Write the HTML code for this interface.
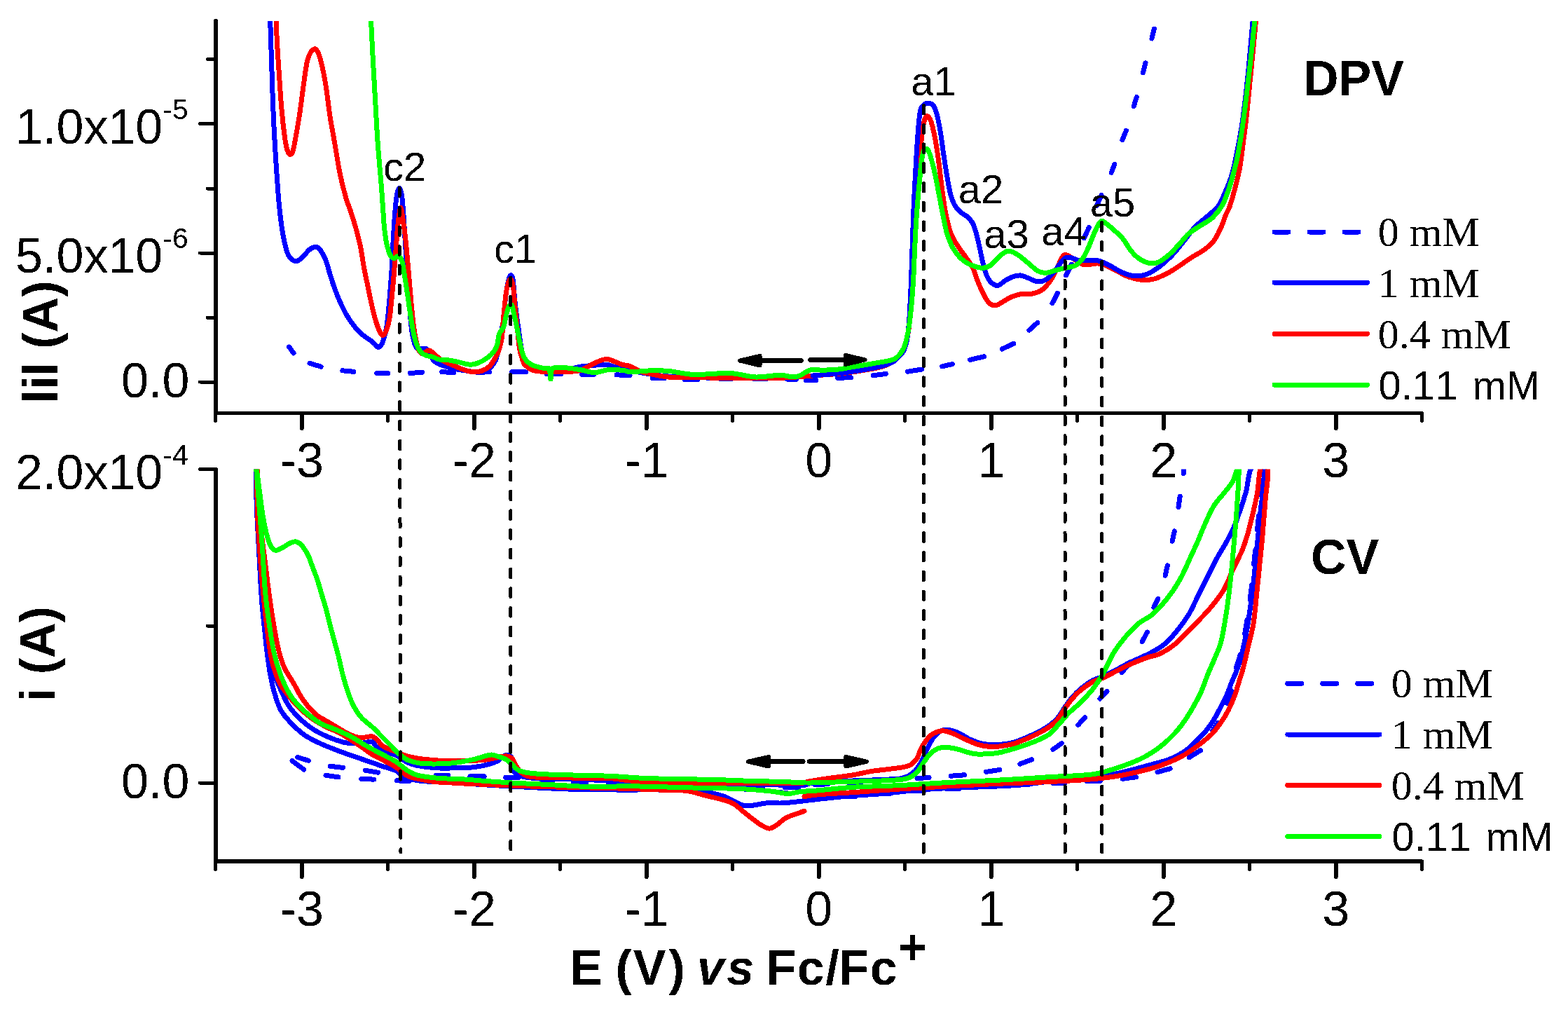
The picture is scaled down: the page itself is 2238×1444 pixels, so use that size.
<!DOCTYPE html>
<html><head><meta charset="utf-8"><title>DPV and CV</title>
<style>html,body{margin:0;padding:0;background:#fff;overflow:hidden}svg{display:block} text{font-kerning:none;filter:url(#crisp)}</style>
</head><body>
<svg width="2238" height="1444" viewBox="0 0 2238 1444" shape-rendering="crispEdges"><rect x="0" y="0" width="2238" height="1444" fill="#fff"/>
<defs><filter id="crisp" x="-0.1" y="-0.1" width="1.2" height="1.2" filterUnits="objectBoundingBox"><feComponentTransfer><feFuncA type="discrete" tableValues="0 1"/></feComponentTransfer></filter><clipPath id="ct"><rect x="308" y="30" width="1722" height="557"/></clipPath><clipPath id="cb"><rect x="308" y="669.5" width="1722" height="557"/></clipPath></defs>
<g clip-path="url(#ct)">
<path d="M412.6,495.0 L419.0,503.9 M442.0,518.2 L458.2,523.3 M488.9,528.8 L504.8,530.3 M537.8,532.4 L553.6,532.6 M585.5,532.5 L602.4,531.2 M630.8,530.7 L647.7,531.5 M681.5,531.5 L698.5,530.7 M730.7,530.6 L750.5,530.9 M780.5,533.7 L800.5,533.7 M830.5,534.2 L848.1,534.2 M880.1,534.9 L899.1,535.4 M931.2,539.5 L948.3,539.7 M977.5,541.5 L995.5,541.5 M1027.5,540.3 L1044.5,540.3 M1075.5,540.5 L1093.5,540.8 M1123.5,541.1 L1136.5,541.4 M1150.1,542.6 L1164.7,542.6 M1195.5,539.4 L1214.5,538.6 M1246.2,535.8 L1264.4,533.4 M1295.6,530.2 L1315.4,527.1 M1344.6,522.8 L1359.5,519.5 M1384.4,513.4 L1404.6,508.8 M1430.2,498.0 L1446.8,490.3 M1468.9,471.1 L1480.7,460.5 M1501.9,432.8 L1509.4,418.4 M1521.6,392.9 L1529.4,377.1 M1547.4,339.7 L1554.2,324.7 M1565.6,293.1 L1572.1,278.7 M1586.2,246.3 L1590.9,234.2 M1601.9,199.6 L1607.4,186.3 M1618.2,151.7 L1622.3,138.6 M1631.4,103.9 L1635.0,89.9 M1644.0,55.0 L1647.4,41.1" fill="none" stroke="#0000ff" stroke-width="7" stroke-linecap="round"/>
<path d="M385.7,30.0 C386.3,47.4 386.8,64.9 387.4,82.3 C388.1,103.1 388.6,123.9 389.4,144.7 C390.2,165.5 391.2,186.2 392.4,207.0 C393.6,227.8 395.0,248.5 396.5,269.3 C397.2,279.5 398.1,289.8 399.2,300.0 C400.1,308.3 401.0,316.6 402.3,324.9 C403.5,332.6 404.7,340.3 406.5,347.8 C407.8,353.4 409.3,359.2 411.7,364.4 C412.8,366.8 414.9,369.0 417.0,370.5 C418.7,371.7 421.2,373.1 423.1,372.7 C426.0,372.1 429.0,369.6 431.4,367.5 C435.2,364.1 437.8,359.2 441.8,356.1 C444.4,354.1 448.2,352.2 451.1,352.4 C453.4,352.5 455.9,355.0 457.4,357.1 C460.4,361.1 462.8,365.9 464.7,370.6 C466.9,376.0 468.1,381.7 469.8,387.3 C472.2,394.9 474.4,402.6 477.1,410.1 C479.6,417.1 482.4,424.1 485.4,430.9 C488.3,437.3 491.3,443.6 494.8,449.6 C498.2,455.4 502.0,461.0 506.2,466.2 C509.9,470.7 514.3,474.9 518.7,478.7 C521.9,481.4 525.7,483.4 529.1,485.9 C531.2,487.5 533.1,489.2 535.0,491.0 C536.5,492.4 537.8,495.1 539.4,495.5 C540.6,495.8 542.5,494.2 543.5,493.0 C544.9,491.3 546.0,489.2 546.7,487.0 C548.8,480.2 550.8,473.3 551.9,466.2 C554.0,452.5 554.9,438.5 556.1,424.7 C557.3,410.8 558.3,397.0 559.2,383.1 C560.1,369.3 560.5,355.4 561.3,341.6 C562.1,327.7 562.9,313.8 564.0,300.0 C564.6,292.6 565.2,285.2 566.5,278.0 C567.1,274.6 568.8,268.0 569.9,268.0 C571.0,268.0 572.7,274.6 573.3,278.0 C574.6,285.2 574.9,292.7 575.5,300.0 C576.3,310.3 576.9,320.7 577.5,331.0 C578.5,347.3 579.4,363.7 580.5,380.0 C581.6,396.7 582.7,413.3 584.0,430.0 C585.0,443.3 585.9,456.7 587.5,470.0 C588.2,476.1 589.3,482.2 591.0,488.0 C591.9,491.2 593.4,494.9 595.5,497.0 C596.7,498.2 599.2,497.9 601.0,498.0 C603.3,498.1 606.2,496.4 608.0,497.4 C610.5,498.8 612.2,502.3 614.0,505.0 C616.4,508.5 617.2,513.6 620.5,516.0 C626.1,520.1 633.8,522.3 640.8,524.4 C647.5,526.4 654.6,527.4 661.6,528.5 C667.8,529.5 674.0,530.5 680.2,530.6 C684.1,530.7 688.2,530.0 692.0,529.0 C694.5,528.3 697.0,527.1 699.0,525.4 C701.4,523.4 703.2,520.6 705.0,518.0 C706.3,516.1 707.7,514.1 708.3,511.9 C710.2,504.8 711.1,497.3 712.5,490.0 C713.6,483.8 714.7,477.6 715.8,471.4 C716.5,467.6 717.5,463.8 718.0,460.0 C719.0,452.4 719.4,444.7 720.2,437.0 C721.0,429.3 721.8,421.6 723.0,414.0 C723.8,409.0 724.6,403.9 726.0,399.0 C726.6,396.7 728.0,392.8 729.1,392.6 C730.0,392.4 731.6,396.0 732.0,398.0 C733.1,403.2 733.0,408.7 733.5,414.0 C734.2,421.7 734.9,429.3 735.8,437.0 C736.7,444.7 737.7,452.3 738.7,460.0 C739.2,463.8 739.9,467.6 740.4,471.4 C741.3,477.6 742.1,483.8 743.0,490.0 C743.9,496.0 744.8,502.1 746.0,508.0 C746.7,511.4 746.5,515.7 748.8,518.1 C753.0,522.6 759.2,527.1 765.4,528.5 C776.3,531.0 788.6,530.9 800.0,530.0 C809.4,529.2 818.4,525.0 827.8,523.3 C834.6,522.1 841.6,521.9 848.5,521.3 C854.1,520.8 859.7,519.7 865.2,520.2 C870.1,520.7 874.8,523.3 879.7,524.4 C893.1,527.4 906.5,530.4 920.0,532.7 C931.1,534.6 942.3,536.2 953.6,537.0 C971.3,538.3 989.2,538.6 1007.0,539.0 C1025.0,539.4 1043.0,539.6 1061.0,539.5 C1081.7,539.4 1102.3,539.2 1123.0,538.5 C1135.3,538.1 1147.7,536.8 1160.0,536.0" fill="none" stroke="#0000ff" stroke-width="7" stroke-linecap="round" stroke-linejoin="round"/>
<path d="M394.6,28.0 C394.7,35.7 394.6,43.5 395.0,51.2 C395.8,68.5 397.1,85.8 398.2,103.1 C399.4,120.4 400.4,137.7 401.9,155.0 C403.1,168.9 404.6,182.8 406.5,196.6 C407.3,202.5 408.3,208.4 410.0,214.0 C410.7,216.4 412.3,219.6 413.8,220.5 C414.6,221.0 416.5,219.2 417.0,218.0 C418.5,214.7 419.3,210.7 420.0,207.0 C422.7,193.2 425.1,179.3 427.3,165.4 C429.6,150.2 431.3,134.9 433.5,119.7 C435.1,108.6 436.2,97.4 438.7,86.5 C439.7,82.0 441.6,77.3 444.0,73.5 C445.2,71.7 447.9,69.6 449.5,69.8 C451.2,70.1 453.0,73.0 454.0,75.0 C456.0,79.2 457.3,84.0 458.4,88.6 C460.9,98.9 463.0,109.3 464.7,119.7 C467.2,134.9 468.6,150.2 470.9,165.4 C473.1,179.3 475.8,193.1 478.2,207.0 C480.6,220.8 482.5,234.8 485.4,248.5 C488.0,261.1 491.3,273.5 494.8,285.9 C496.2,290.7 498.4,295.2 500.0,300.0 C502.9,308.9 505.8,317.9 508.3,327.0 C510.6,335.2 512.8,343.5 514.5,351.9 C516.6,362.2 517.8,372.7 519.7,383.1 C521.2,391.4 523.2,399.7 524.9,408.0 C526.6,416.3 528.2,424.7 530.1,433.0 C532.0,441.3 533.8,449.7 536.3,457.9 C538.0,463.6 540.0,469.3 542.6,474.5 C543.4,476.2 545.5,479.0 546.7,478.5 C548.6,477.6 550.8,473.4 551.9,470.4 C553.9,465.1 555.2,459.4 556.1,453.7 C557.6,444.1 558.2,434.4 559.2,424.7 C560.3,413.6 561.4,402.5 562.3,391.4 C563.4,378.2 564.3,365.1 565.4,351.9 C566.3,340.6 566.9,329.2 568.2,318.0 C569.1,310.8 570.7,296.5 572.0,296.5 C573.3,296.5 574.7,310.8 575.8,318.0 C577.0,325.8 578.1,333.7 578.9,341.6 C580.5,356.8 581.7,372.1 583.1,387.3 C584.5,403.2 585.7,419.1 587.2,435.0 C588.4,447.5 589.4,460.0 591.4,472.4 C592.9,481.5 594.4,491.0 597.6,499.4 C598.6,502.0 601.8,504.9 603.9,505.2 C605.6,505.4 607.1,502.1 609.0,501.0 C610.2,500.3 611.8,499.7 613.0,500.0 C614.9,500.5 616.7,502.2 618.4,503.6 C622.0,506.6 624.9,510.5 628.8,513.0 C633.8,516.2 639.6,518.1 645.0,520.5 C650.5,522.9 655.9,525.5 661.6,527.5 C665.6,528.9 669.8,530.2 674.0,530.6 C678.1,530.9 682.6,530.9 686.5,529.6 C691.0,528.1 695.6,525.5 699.0,522.3 C702.5,518.9 704.8,514.1 707.3,509.8 C709.1,506.7 710.9,503.4 712.0,500.0 C713.8,494.5 715.3,488.8 716.2,483.0 C717.3,475.4 717.3,467.7 718.0,460.0 C718.7,452.3 719.4,444.7 720.2,437.0 C721.0,429.3 721.7,421.6 723.0,414.0 C723.7,409.9 724.6,405.8 726.0,402.0 C726.5,400.6 727.8,398.4 728.6,398.4 C729.4,398.4 730.6,400.6 731.0,402.0 C732.1,405.8 732.5,410.0 733.0,414.0 C733.9,421.6 734.3,429.3 735.0,437.0 C735.8,444.7 736.7,452.3 737.5,460.0 C738.2,466.7 738.8,473.3 739.5,480.0 C740.3,486.7 740.7,493.4 742.0,500.0 C742.9,504.8 744.5,509.4 746.0,514.0 C746.7,516.1 747.2,518.7 748.8,520.2 C752.3,523.5 756.6,527.2 761.3,528.5 C769.1,530.7 777.9,530.2 786.2,530.6 C793.1,530.9 800.1,530.9 807.0,530.6 C814.0,530.2 821.2,530.5 827.8,528.5 C835.1,526.3 841.5,521.4 848.5,518.1 C852.2,516.4 856.1,514.7 860.0,513.5 C862.3,512.8 864.9,512.0 867.2,512.3 C870.7,512.8 874.1,514.8 877.6,516.1 C881.1,517.4 884.4,519.1 888.0,520.2 C891.4,521.2 895.1,521.1 898.4,522.3 C902.7,523.9 906.6,526.7 910.9,528.5 C913.8,529.8 916.9,530.9 920.0,531.6 C931.1,534.1 942.3,537.1 953.6,538.0 C971.3,539.5 989.3,538.6 1007.2,538.9 C1025.1,539.2 1043.0,539.7 1060.9,539.7 C1081.7,539.7 1102.6,539.7 1123.4,538.9 C1135.6,538.4 1147.8,537.0 1160.0,536.0" fill="none" stroke="#ff0000" stroke-width="7" stroke-linecap="round" stroke-linejoin="round"/>
<path d="M1160.0,536.0 C1174.6,534.9 1189.3,534.4 1203.8,532.6 C1221.8,530.3 1239.9,527.7 1257.5,523.7 C1263.0,522.5 1268.1,519.7 1273.0,517.0 C1275.9,515.4 1278.6,513.3 1281.0,511.0 C1283.6,508.6 1286.3,506.0 1288.0,503.0 C1290.3,499.0 1291.8,494.5 1293.0,490.0 C1294.8,483.5 1296.1,476.7 1297.0,470.0 C1298.4,460.1 1299.2,450.0 1300.0,440.0 C1301.2,423.4 1302.0,406.7 1303.0,390.0 C1304.6,362.6 1306.1,335.2 1307.8,307.8 C1309.5,280.1 1310.9,252.4 1313.0,224.7 C1314.0,210.8 1315.3,196.9 1317.1,183.1 C1317.7,178.7 1318.5,174.1 1320.0,170.0 C1320.6,168.2 1322.4,165.0 1323.5,165.4 C1325.2,165.9 1327.6,170.0 1328.6,172.7 C1331.0,179.3 1332.4,186.5 1333.8,193.5 C1335.9,203.8 1337.5,214.3 1339.0,224.7 C1341.0,238.5 1342.2,252.4 1344.1,266.2 C1345.7,278.0 1347.1,289.8 1349.3,301.5 C1351.0,310.6 1353.0,319.7 1355.6,328.5 C1356.9,332.8 1358.9,337.0 1361.0,341.0 C1363.3,345.4 1366.1,349.6 1368.9,353.7 C1371.8,358.0 1375.0,362.0 1377.9,366.2 C1381.6,371.5 1385.7,376.6 1388.6,382.3 C1391.7,388.5 1393.1,395.5 1395.7,401.9 C1398.4,408.6 1401.3,415.2 1404.7,421.6 C1406.7,425.4 1408.7,429.6 1411.8,432.3 C1414.1,434.4 1417.9,436.2 1420.8,435.9 C1424.4,435.6 1428.0,432.4 1431.5,430.5 C1435.1,428.5 1438.4,425.9 1442.2,424.3 C1446.8,422.3 1451.6,420.6 1456.5,419.8 C1462.3,418.8 1468.7,420.2 1474.4,418.9 C1479.4,417.8 1484.6,415.7 1488.7,412.6 C1493.0,409.4 1496.3,404.6 1499.4,400.1 C1502.8,395.1 1505.6,389.5 1508.3,384.0 C1510.9,378.8 1512.5,372.9 1515.5,368.0 C1516.7,366.0 1518.9,363.5 1520.9,363.5 C1523.7,363.5 1526.9,366.4 1529.8,368.0 C1532.8,369.7 1535.7,371.6 1538.7,373.3 C1541.6,374.9 1544.5,377.5 1547.7,377.8 C1553.4,378.4 1559.6,376.1 1565.5,376.0 C1568.5,375.9 1571.7,376.3 1574.5,377.3 C1580.6,379.5 1586.5,382.9 1592.4,385.8 C1598.4,388.7 1604.0,392.5 1610.2,394.8 C1615.9,396.9 1622.0,398.6 1628.1,399.2 C1634.0,399.8 1640.2,399.6 1646.0,398.3 C1652.1,396.9 1658.1,394.0 1663.8,391.2 C1670.0,388.1 1675.9,384.3 1681.7,380.5 C1687.8,376.5 1693.5,372.0 1699.6,368.0 C1705.4,364.2 1711.9,361.3 1717.5,357.2 C1722.6,353.5 1728.0,349.6 1731.8,344.7 C1736.3,338.9 1739.3,331.8 1742.5,325.1 C1745.1,319.6 1746.7,313.6 1749.0,308.0 C1750.9,303.3 1753.7,299.0 1755.3,294.2 C1758.5,284.7 1761.1,274.9 1763.6,265.2 C1765.9,256.2 1768.2,247.2 1769.8,238.1 C1771.6,227.8 1772.7,217.4 1774.0,207.0 C1775.8,193.1 1777.7,179.3 1779.2,165.4 C1781.1,148.1 1782.7,130.8 1784.4,113.5 C1785.8,99.6 1787.2,85.8 1788.5,71.9 C1789.9,57.3 1791.3,42.6 1792.7,28.0" fill="none" stroke="#ff0000" stroke-width="7" stroke-linecap="round" stroke-linejoin="round"/>
<path d="M1160.0,536.0 C1174.7,534.7 1189.4,534.0 1204.0,532.0 C1221.7,529.6 1239.6,526.9 1257.0,523.0 C1263.3,521.6 1269.4,519.0 1275.0,516.0 C1278.1,514.3 1280.6,511.6 1283.0,509.0 C1285.6,506.2 1288.4,503.4 1290.0,500.0 C1292.2,495.4 1293.5,490.1 1294.5,485.0 C1296.0,476.8 1296.9,468.4 1297.5,460.0 C1298.9,440.0 1299.7,420.0 1300.5,400.0 C1301.7,369.3 1302.4,338.5 1303.6,307.8 C1304.4,287.0 1305.6,266.2 1306.7,245.4 C1307.7,228.1 1308.5,210.8 1309.9,193.5 C1310.8,181.7 1311.4,169.6 1313.6,158.2 C1314.2,155.0 1316.2,151.6 1318.5,149.5 C1320.1,148.0 1323.1,147.3 1325.4,147.4 C1327.5,147.5 1330.4,148.2 1331.7,149.9 C1334.2,153.2 1335.7,158.0 1336.9,162.3 C1339.2,170.5 1340.7,178.9 1342.1,187.3 C1343.8,196.9 1344.8,206.6 1346.2,216.3 C1347.9,227.4 1349.5,238.5 1351.4,249.6 C1353.0,258.6 1354.3,267.8 1356.6,276.6 C1358.1,282.3 1360.0,288.1 1362.8,293.2 C1364.7,296.7 1367.7,299.9 1370.7,302.6 C1373.9,305.4 1378.2,307.0 1381.4,309.8 C1384.0,312.1 1386.3,315.0 1388.0,318.0 C1389.8,321.1 1391.0,324.6 1392.0,328.0 C1394.1,335.3 1395.8,342.7 1397.5,350.1 C1399.4,358.4 1400.8,366.8 1402.9,375.1 C1404.4,381.1 1405.8,387.3 1408.3,393.0 C1410.0,396.9 1412.3,401.0 1415.4,403.7 C1417.7,405.7 1421.5,407.8 1424.3,407.3 C1428.1,406.6 1431.4,402.3 1435.1,400.1 C1438.5,398.1 1442.1,396.0 1445.8,394.8 C1449.2,393.7 1453.0,392.7 1456.5,393.0 C1460.1,393.3 1463.7,395.3 1467.2,396.6 C1472.0,398.3 1476.7,401.6 1481.5,401.9 C1485.6,402.2 1490.4,400.5 1494.0,398.3 C1498.2,395.7 1501.5,391.4 1504.8,387.6 C1508.1,383.7 1510.5,379.0 1513.7,375.1 C1515.8,372.5 1518.0,369.3 1520.9,368.0 C1523.4,366.9 1526.9,367.4 1529.8,368.0 C1532.9,368.6 1535.6,370.9 1538.7,371.5 C1541.6,372.1 1544.7,371.6 1547.7,371.5 C1550.7,371.5 1553.6,371.1 1556.6,371.2 C1560.8,371.4 1565.1,371.3 1569.1,372.4 C1574.1,373.8 1578.7,376.4 1583.4,378.7 C1589.5,381.7 1595.1,385.9 1601.3,388.5 C1607.0,390.9 1613.1,393.4 1619.2,393.9 C1625.0,394.3 1631.5,393.3 1637.0,391.2 C1643.4,388.8 1649.4,384.6 1654.9,380.5 C1661.3,375.7 1667.3,370.2 1672.8,364.4 C1679.2,357.7 1684.8,350.1 1690.7,342.9 C1695.9,336.5 1700.4,329.5 1706.0,323.5 C1710.8,318.4 1716.8,314.5 1722.0,309.8 C1727.7,304.7 1734.2,300.2 1738.7,294.2 C1743.2,288.1 1745.9,280.6 1749.0,273.5 C1752.5,265.3 1756.0,257.0 1758.5,248.5 C1761.5,238.3 1763.4,227.8 1765.5,217.4 C1767.9,205.6 1770.1,193.8 1772.0,182.0 C1774.0,169.6 1775.5,157.2 1777.0,144.7 C1778.7,130.9 1780.1,117.0 1781.5,103.1 C1782.9,89.3 1784.0,75.4 1785.3,61.6 C1786.3,50.4 1787.3,39.2 1788.3,28.0" fill="none" stroke="#0000ff" stroke-width="7" stroke-linecap="round" stroke-linejoin="round"/>
<path d="M529.5,28.0 C530.4,46.1 531.2,64.2 532.2,82.3 C533.3,103.1 534.5,123.9 535.7,144.7 C536.9,165.5 537.9,186.3 539.4,207.0 C540.9,227.8 543.0,248.5 544.6,269.3 C545.4,279.5 546.0,289.8 546.7,300.0 C547.4,309.0 547.8,318.0 548.8,327.0 C549.6,334.0 550.4,341.0 551.9,347.8 C553.2,353.4 554.6,359.4 557.1,364.4 C558.1,366.3 560.4,368.4 562.3,368.6 C564.2,368.8 566.8,364.8 568.5,365.4 C570.6,366.2 572.7,369.9 573.7,372.7 C575.5,377.9 575.9,383.7 576.8,389.3 C578.3,398.3 579.7,407.3 581.0,416.3 C582.5,426.0 583.7,435.7 585.2,445.4 C586.5,453.7 587.6,462.1 589.3,470.4 C590.7,477.4 592.0,484.5 594.5,491.1 C596.2,495.6 598.6,500.2 601.8,503.6 C603.8,505.8 607.2,506.8 610.1,507.8 C612.0,508.5 614.3,508.2 616.3,508.8 C619.8,509.9 623.1,512.2 626.7,513.0 C631.3,514.0 636.1,513.4 640.8,514.0 C645.9,514.7 650.9,516.0 656.0,517.0 C661.3,518.1 666.6,520.4 671.9,520.2 C676.8,520.1 682.0,518.3 686.5,516.1 C691.7,513.6 696.9,510.1 701.0,506.0 C704.4,502.7 707.3,498.4 709.0,494.0 C711.1,488.6 710.8,482.1 712.5,476.5 C713.1,474.4 714.9,472.8 716.0,471.0 C717.0,469.3 718.4,467.8 719.0,466.0 C720.6,460.7 721.2,455.0 722.6,449.6 C723.6,445.7 724.4,441.6 726.0,438.0 C726.6,436.6 728.3,434.5 729.3,434.5 C730.1,434.5 731.1,436.7 731.5,438.0 C732.3,440.3 732.5,442.9 733.0,445.4 C734.5,452.3 736.1,459.3 737.6,466.2 C739.3,474.5 740.6,482.9 742.6,491.1 C744.1,497.4 745.0,504.2 748.0,509.8 C750.2,513.9 754.0,517.7 758.0,520.0 C763.2,522.9 769.8,524.0 775.8,525.4 C778.3,526.0 782.4,524.2 783.5,526.0 C785.8,529.4 785.2,541.0 786.0,541.0 C786.8,541.0 785.6,528.8 788.5,526.0 C791.2,523.3 798.0,524.2 802.8,524.4 C811.1,524.7 819.5,526.2 827.8,527.5 C834.7,528.6 841.6,531.6 848.5,531.6 C855.4,531.6 862.3,528.0 869.3,527.5 C876.2,527.0 883.2,527.8 890.1,528.5 C893.5,528.9 896.6,530.8 900.0,530.8 C908.3,530.9 916.7,529.2 925.0,529.0 C934.5,528.8 944.1,528.6 953.6,529.4 C965.6,530.4 977.4,534.0 989.4,534.4 C1007.2,535.0 1025.2,531.9 1043.0,532.6 C1055.0,533.1 1066.7,537.5 1078.7,538.0 C1090.6,538.4 1102.6,535.3 1114.5,535.3 C1120.5,535.3 1126.5,537.8 1132.4,538.0 C1135.4,538.1 1138.5,537.3 1141.3,536.2 C1144.4,535.0 1147.0,532.5 1150.0,531.0 C1153.0,529.5 1156.0,527.6 1159.2,527.2 C1163.2,526.7 1167.5,528.1 1171.7,528.1 C1179.4,528.1 1187.2,528.0 1194.9,527.2 C1203.9,526.2 1212.8,524.3 1221.7,522.8 C1230.6,521.3 1239.6,519.9 1248.5,518.3 C1257.5,516.6 1266.8,515.7 1275.3,512.9 C1278.3,511.9 1280.8,509.3 1283.0,507.0 C1285.0,505.0 1286.5,502.4 1288.0,500.0 C1289.3,497.9 1290.5,495.7 1291.2,493.4 C1293.2,487.1 1294.7,480.5 1296.0,474.0 C1297.3,467.6 1298.1,461.1 1298.9,454.6 C1300.1,444.9 1301.0,435.2 1301.8,425.5 C1302.6,415.8 1303.3,406.1 1303.8,396.4 C1304.5,383.5 1304.9,370.5 1305.5,357.6 C1306.1,344.7 1306.7,331.7 1307.5,318.8 C1308.2,307.5 1309.1,296.3 1310.0,285.0 C1310.7,276.0 1311.6,267.0 1312.5,258.0 C1313.6,246.9 1314.5,235.7 1316.1,224.7 C1316.6,221.1 1317.5,217.2 1319.0,214.0 C1319.5,213.0 1321.0,211.9 1321.9,212.0 C1323.0,212.2 1324.3,213.8 1325.0,215.0 C1326.6,218.0 1327.7,221.4 1328.6,224.7 C1330.9,232.9 1333.0,241.2 1334.8,249.6 C1336.8,258.5 1338.3,267.6 1340.0,276.6 C1341.7,285.6 1343.4,294.6 1345.2,303.6 C1347.2,313.3 1348.9,323.1 1351.4,332.7 C1352.5,336.9 1354.3,341.0 1356.0,345.0 C1357.2,348.0 1358.3,351.0 1360.0,353.7 C1363.2,358.7 1366.5,363.8 1370.7,368.0 C1374.3,371.6 1378.6,374.8 1383.2,376.9 C1388.8,379.5 1395.1,381.9 1401.1,382.3 C1405.3,382.5 1410.1,381.0 1413.6,378.7 C1418.4,375.6 1421.6,369.9 1426.1,366.2 C1429.9,363.1 1434.2,358.7 1438.6,358.1 C1442.6,357.5 1447.4,360.3 1451.2,362.6 C1456.9,366.0 1461.9,370.9 1467.2,375.1 C1472.0,378.9 1476.3,383.7 1481.5,386.7 C1484.7,388.5 1488.7,389.5 1492.3,389.4 C1497.1,389.2 1501.8,387.0 1506.6,385.8 C1511.4,384.6 1516.1,383.5 1520.9,382.3 C1525.7,381.1 1531.1,381.1 1535.2,378.7 C1539.4,376.3 1543.1,372.1 1545.9,368.0 C1549.6,362.6 1552.1,356.2 1554.8,350.1 C1557.4,344.2 1559.4,338.1 1562.0,332.2 C1563.9,327.9 1565.8,323.6 1568.2,319.7 C1569.3,317.9 1571.0,315.2 1572.7,315.2 C1574.9,315.2 1577.6,318.0 1579.8,319.7 C1584.2,323.1 1588.4,326.7 1592.4,330.4 C1596.1,333.8 1600.0,337.3 1603.1,341.2 C1607.1,346.2 1609.8,352.2 1613.8,357.2 C1616.9,361.1 1620.4,365.1 1624.5,368.0 C1628.8,371.1 1633.8,374.0 1638.8,375.1 C1643.3,376.1 1648.8,375.8 1653.1,374.2 C1658.3,372.2 1663.0,368.1 1667.4,364.4 C1672.5,360.1 1677.1,355.0 1681.7,350.1 C1686.6,344.9 1690.8,338.9 1696.0,334.0 C1699.7,330.5 1704.2,327.9 1708.5,325.1 C1712.2,322.6 1716.2,320.5 1720.0,318.0 C1723.5,315.7 1727.5,313.9 1730.4,310.9 C1735.8,305.3 1741.2,299.1 1744.9,292.2 C1749.5,283.8 1752.3,274.4 1755.3,265.2 C1758.9,254.3 1761.9,243.1 1764.5,231.9 C1767.2,220.2 1769.1,208.4 1771.0,196.6 C1773.2,182.8 1775.0,168.9 1776.8,155.0 C1778.6,141.2 1780.2,127.3 1781.8,113.5 C1783.4,99.6 1785.0,85.8 1786.5,71.9 C1788.1,57.3 1789.5,42.6 1791.0,28.0" fill="none" stroke="#00ff00" stroke-width="7" stroke-linecap="round" stroke-linejoin="round"/>
</g>
<g clip-path="url(#cb)">
<path d="M1309.0,1110.4 L1326.1,1109.6 M1357.3,1107.2 L1376.4,1105.8 M1407.5,1101.4 L1426.7,1098.4 M1455.8,1090.1 L1472.6,1083.8 M1502.9,1069.4 L1515.5,1060.4 M1538.9,1034.3 L1548.8,1023.7 M1570.0,997.0 L1579.9,986.5 M1601.1,959.5 L1613.1,945.5 M1630.2,915.6 L1637.4,902.0 M1646.8,866.7 L1652.9,854.2 M1663.2,821.1 L1666.3,806.8 M1673.2,772.1 L1676.3,757.9 M1682.0,723.5 L1684.2,708.2 M1689.2,675.5 L1690.5,663.5 M1163.5,1119.8 L1181.5,1118.7 M1211.5,1116.8 L1229.5,1115.7 M1259.5,1113.8 L1277.5,1112.7 M1758.1,986.2 L1751.1,1003.3 M1738.1,1031.5 L1730.9,1042.4 M1713.5,1070.7 L1697.3,1080.8 M1670.2,1096.7 L1652.0,1101.8 M1621.6,1108.7 L1602.3,1111.3 M1570.2,1114.6 L1551.2,1114.6 M1520.0,1117.2 L1502.7,1117.2 M1468.0,1119.8 L1452.5,1119.8 M1418.6,1122.0 L1400.1,1122.0 M1369.0,1125.3 L1350.5,1125.3 M1319.4,1128.0 L1301.0,1128.0 M1269.8,1132.7 L1251.4,1132.7 M1220.9,1136.7 L1201.8,1136.7 M1171.5,1127.7 L1153.5,1128.8 M1123.5,1131.7 L1105.5,1129.8 M1075.5,1126.8 L1057.5,1125.7 M1027.5,1124.9 L1009.5,1124.4 M979.5,1124.0 L961.5,1123.7 M931.5,1122.9 L913.5,1122.3 M883.5,1122.0 L865.5,1122.2 M835.5,1122.4 L817.5,1121.6 M787.5,1120.4 L769.5,1119.6 M739.5,1117.9 L721.5,1117.1 M691.5,1115.4 L673.5,1114.6 M643.5,1113.4 L625.5,1112.6 M583.8,1114.9 L566.5,1113.8 M533.8,1112.1 L515.8,1111.6 M483.0,1108.9 L465.0,1106.3 M433.7,1098.0 L417.1,1085.7 M424.8,1080.4 L440.3,1085.4 M471.4,1093.3 L489.5,1095.4 M521.4,1099.2 L539.6,1102.3 M570.5,1104.2 L589.5,1105.3 M622.3,1106.5 L639.6,1106.5 M670.9,1107.9 L691.1,1107.9 M721.8,1109.3 L740.5,1109.3 M773.1,1112.1 L791.0,1112.1 M818.8,1116.3 L836.7,1116.3 M868.0,1117.6 L886.5,1117.6 M917.2,1118.1 L937.2,1118.4 M967.9,1119.1 L987.9,1119.4 M1018.6,1120.1 L1038.6,1120.4 M1069.3,1121.1 L1089.3,1121.7 M1120.0,1123.8 L1139.8,1123.8" fill="none" stroke="#0000ff" stroke-width="7" stroke-linecap="round"/>
<path d="M1802.0,666.0 C1800.3,687.6 1798.9,709.2 1797.0,730.7 C1795.6,746.4 1793.9,762.1 1792.3,777.8 C1790.3,797.4 1788.7,817.1 1786.4,836.7 C1784.0,856.4 1781.5,876.1 1778.2,895.6 C1776.0,908.8 1773.2,922.0 1770.0,935.0 C1768.0,942.8 1765.1,950.3 1762.6,958.0 C1760.9,963.3 1759.1,968.6 1757.5,974.0 C1755.6,980.3 1753.8,986.7 1752.0,993.0" fill="none" stroke="#0000ff" stroke-width="7" stroke-linecap="round" stroke-linejoin="round" stroke-dasharray="20 30" stroke-dashoffset="30.0"/>
<path d="M1150.0,1120.0 C1153.3,1119.0 1156.5,1117.3 1160.0,1117.0 C1178.9,1115.3 1198.0,1114.9 1217.0,1114.0 C1239.3,1112.9 1261.9,1113.0 1284.0,1111.0 C1288.7,1110.6 1293.4,1108.7 1297.5,1106.6 C1301.0,1104.8 1304.2,1102.1 1306.8,1099.2 C1310.0,1095.6 1312.6,1091.3 1314.9,1087.1 C1317.9,1081.5 1320.0,1075.4 1322.9,1069.7 C1326.2,1063.3 1329.0,1056.2 1333.6,1050.9 C1337.1,1046.9 1342.1,1042.7 1347.0,1041.6 C1352.4,1040.4 1359.0,1042.2 1364.5,1044.2 C1371.6,1046.7 1377.7,1052.0 1384.6,1055.0 C1391.1,1057.8 1397.8,1060.6 1404.7,1061.7 C1412.9,1063.0 1421.6,1062.5 1430.0,1062.0 C1435.8,1061.6 1441.7,1060.7 1447.3,1059.0 C1456.2,1056.3 1464.8,1052.5 1473.3,1048.6 C1481.0,1045.0 1488.8,1041.2 1495.8,1036.5 C1500.9,1033.1 1505.6,1029.0 1509.6,1024.4 C1513.7,1019.8 1516.4,1014.1 1520.0,1009.0 C1523.4,1004.3 1526.6,999.4 1530.4,995.0 C1534.1,990.7 1538.1,986.6 1542.5,983.0 C1547.9,978.5 1553.7,974.1 1559.8,970.7 C1564.1,968.3 1569.2,967.5 1573.7,965.5 C1580.7,962.3 1587.5,958.7 1594.4,955.1 C1600.3,952.0 1606.0,948.5 1612.0,945.6 C1622.3,940.6 1633.1,936.6 1643.1,931.2 C1650.4,927.3 1657.7,923.0 1663.9,917.6 C1670.9,911.5 1676.8,904.1 1682.6,896.8 C1687.9,890.2 1692.8,883.3 1697.1,876.1 C1701.8,868.1 1705.4,859.4 1709.6,851.1 C1713.7,842.8 1717.9,834.5 1722.0,826.2 C1726.9,816.5 1731.5,806.6 1736.6,797.1 C1741.2,788.6 1746.5,780.6 1751.1,772.2 C1754.8,765.4 1758.4,758.5 1761.5,751.4 C1764.7,744.0 1767.2,736.3 1769.8,728.6 C1772.9,719.7 1776.0,710.7 1778.5,701.6 C1781.7,689.8 1781.2,674.1 1787.0,666.0 C1789.7,662.2 1803.2,661.5 1804.0,666.0 C1807.2,683.1 1800.9,709.2 1799.0,730.7 C1797.6,746.4 1795.9,762.1 1794.3,777.8 C1792.3,797.4 1790.7,817.1 1788.4,836.7 C1786.0,856.4 1783.5,876.1 1780.2,895.6 C1778.0,908.8 1775.2,922.0 1772.0,935.0 C1770.0,942.8 1767.4,950.4 1764.6,958.0 C1762.7,963.2 1760.1,968.1 1758.0,973.2 C1755.6,979.2 1753.7,985.3 1751.1,991.2 C1748.6,996.9 1745.7,1002.4 1742.8,1007.9 C1739.7,1013.9 1736.7,1020.1 1733.1,1025.9 C1728.9,1032.6 1724.4,1039.2 1719.3,1045.3 C1715.1,1050.3 1710.1,1054.6 1705.4,1059.1 C1700.9,1063.4 1696.7,1068.1 1691.6,1071.6 C1685.2,1076.0 1678.1,1079.8 1670.8,1082.7 C1661.9,1086.3 1652.4,1088.4 1643.1,1091.0 C1629.3,1094.8 1615.5,1098.7 1601.6,1102.0 C1587.8,1105.2 1574.0,1108.6 1560.0,1110.4 C1539.8,1113.0 1519.3,1113.1 1499.0,1115.0 C1482.6,1116.5 1466.4,1119.5 1450.0,1120.6 C1417.1,1122.8 1384.0,1123.1 1351.0,1124.7 C1337.6,1125.3 1324.2,1126.2 1310.9,1127.3 C1293.0,1128.8 1275.1,1131.2 1257.2,1132.7 C1243.8,1133.9 1230.4,1134.3 1217.0,1135.4 C1203.6,1136.5 1190.2,1138.0 1176.8,1139.4 C1167.9,1140.3 1158.9,1141.5 1150.0,1142.5 C1139.1,1143.7 1128.2,1145.2 1117.2,1145.9 C1109.6,1146.4 1102.0,1145.3 1094.4,1145.9 C1087.7,1146.4 1081.0,1148.5 1074.3,1149.2 C1069.9,1149.6 1065.2,1150.2 1060.9,1149.2 C1056.2,1148.2 1051.9,1145.3 1047.5,1143.2 C1043.0,1141.1 1038.8,1137.9 1034.0,1136.5 C1020.9,1132.7 1007.4,1128.9 993.8,1127.5 C976.1,1125.7 957.9,1127.1 940.0,1127.0 C920.0,1126.9 900.0,1127.1 880.0,1127.0 C860.3,1126.9 840.5,1126.8 820.8,1126.3 C804.7,1125.9 788.5,1125.1 772.4,1124.3 C749.3,1123.2 726.2,1121.8 703.1,1120.5 C681.2,1119.2 659.3,1117.8 637.4,1116.5 C625.5,1115.8 613.5,1115.7 601.6,1114.4 C594.4,1113.6 586.8,1112.7 580.2,1110.1 C574.9,1108.0 571.1,1102.6 565.9,1100.1 C559.2,1096.9 551.5,1095.4 544.4,1092.9 C534.8,1089.6 525.3,1086.2 515.8,1082.9 C506.3,1079.6 496.7,1076.4 487.2,1072.9 C477.6,1069.3 467.9,1065.8 458.6,1061.5 C450.3,1057.7 441.7,1053.9 434.3,1048.6 C426.4,1043.0 419.4,1035.9 412.7,1028.8 C408.0,1023.8 403.4,1018.3 400.2,1012.2 C396.5,1005.1 394.2,997.1 391.9,989.3 C389.3,980.4 387.4,971.4 385.7,962.3 C383.7,951.6 382.4,940.8 381.0,930.0 C380.1,923.1 379.5,916.2 378.8,909.3 C377.0,892.0 374.9,874.7 373.6,857.4 C371.8,833.2 370.8,808.9 369.5,784.7 C368.4,763.9 367.0,743.1 366.3,722.3 C365.7,703.5 365.2,666.4 365.5,666.0 C365.8,665.6 367.1,702.0 368.0,720.0 C369.0,740.0 369.8,760.0 371.0,780.0 C372.2,800.0 373.5,820.0 375.0,840.0 C376.5,860.0 378.1,880.0 380.0,900.0 C381.1,911.7 382.0,923.4 384.0,935.0 C385.3,942.8 387.4,950.7 389.9,958.2 C392.8,966.7 396.5,974.9 400.2,983.1 C404.1,991.5 407.6,1000.3 412.7,1008.0 C417.3,1014.9 423.3,1021.0 429.3,1026.7 C435.0,1032.1 441.4,1037.1 448.0,1041.3 C454.5,1045.4 461.7,1048.7 468.8,1051.7 C475.5,1054.6 482.5,1057.1 489.6,1059.0 C493.9,1060.1 498.5,1060.5 503.0,1060.7 C508.0,1060.9 513.0,1060.4 518.0,1060.0 C522.5,1059.7 527.7,1057.5 531.6,1058.6 C534.2,1059.4 534.9,1064.0 537.3,1065.7 C541.5,1068.7 546.7,1070.8 551.6,1072.9 C556.2,1074.9 561.4,1075.8 565.9,1078.0 C570.9,1080.5 575.2,1084.7 580.2,1087.2 C584.7,1089.4 589.6,1091.2 594.5,1092.2 C603.9,1094.1 613.5,1095.2 623.1,1095.8 C632.6,1096.4 642.2,1096.0 651.7,1095.8 C659.6,1095.6 667.6,1095.7 675.4,1094.8 C682.9,1094.0 690.3,1092.5 697.6,1090.6 C701.9,1089.5 706.1,1088.0 710.0,1086.0 C712.3,1084.8 713.9,1082.5 716.0,1081.0 C717.9,1079.7 719.9,1078.1 722.0,1077.5 C723.5,1077.1 725.5,1077.5 727.0,1078.0 C727.9,1078.3 729.1,1079.0 729.4,1080.0 C730.9,1085.6 730.2,1092.2 732.2,1097.6 C733.4,1100.9 736.0,1104.4 739.1,1105.9 C744.8,1108.6 751.9,1109.5 758.5,1110.0 C776.9,1111.4 795.4,1110.7 813.9,1111.4 C841.6,1112.5 869.3,1114.3 897.0,1115.6 C911.3,1116.3 925.7,1117.2 940.0,1117.5 C960.0,1118.0 980.0,1117.7 1000.0,1118.0 C1031.0,1118.4 1062.0,1118.9 1093.0,1119.5 C1105.3,1119.7 1117.7,1120.4 1130.0,1120.5 C1136.7,1120.6 1143.3,1120.2 1150.0,1120.0" fill="none" stroke="#0000ff" stroke-width="7" stroke-linecap="round" stroke-linejoin="round"/>
<path d="M1148.0,1157.3 C1143.5,1158.9 1139.0,1160.3 1134.6,1162.0 C1130.1,1163.7 1125.3,1164.9 1121.2,1167.3 C1116.8,1169.8 1113.4,1173.9 1109.1,1176.7 C1105.8,1178.9 1102.1,1181.9 1098.4,1182.1 C1094.9,1182.3 1091.0,1179.9 1087.7,1178.1 C1083.0,1175.5 1078.7,1172.0 1074.3,1168.7 C1069.7,1165.3 1065.4,1161.6 1060.9,1158.0 C1056.4,1154.4 1052.4,1150.1 1047.5,1147.2 C1043.4,1144.7 1038.6,1143.3 1034.0,1141.9 C1025.2,1139.3 1016.1,1137.4 1007.2,1135.2 C998.3,1133.0 989.5,1129.6 980.4,1128.5 C967.2,1126.9 953.6,1127.5 940.2,1127.0 C926.8,1126.5 913.4,1125.9 900.0,1125.5 C880.5,1124.9 861.1,1124.5 841.6,1124.0 C821.1,1123.5 800.5,1123.3 780.0,1122.7 C763.6,1122.3 747.2,1121.7 730.8,1121.0 C707.7,1120.1 684.7,1119.1 661.6,1118.0 C653.5,1117.6 645.5,1117.0 637.4,1116.5 C631.6,1116.2 625.8,1116.2 620.0,1115.5 C613.8,1114.8 607.7,1113.5 601.6,1112.2 C595.4,1110.9 588.9,1110.1 583.1,1107.8 C579.2,1106.2 576.1,1103.0 572.7,1100.5 C569.9,1098.5 567.3,1096.1 564.4,1094.3 C560.3,1091.7 555.9,1089.5 551.6,1087.2 C544.5,1083.3 537.0,1080.0 530.1,1075.8 C525.1,1072.8 520.6,1069.0 515.8,1065.7 C512.6,1063.4 509.3,1061.1 506.0,1059.0 C499.1,1054.6 492.2,1049.9 485.0,1046.0 C478.6,1042.6 471.5,1040.4 465.0,1037.0 C458.1,1033.4 451.3,1029.5 445.0,1025.0 C438.7,1020.5 432.6,1015.4 427.0,1010.0 C421.1,1004.2 415.6,997.9 410.6,991.4 C406.0,985.5 401.3,979.4 398.2,972.7 C393.7,962.8 390.2,952.2 387.8,941.6 C384.7,928.0 383.4,913.9 381.6,900.0 C379.5,883.4 377.6,866.7 376.0,850.0 C374.1,830.0 372.4,810.0 371.0,790.0 C369.6,770.0 368.1,750.0 367.5,730.0 C366.8,708.7 366.5,667.8 367.0,666.0 C367.4,664.5 368.8,702.0 370.0,720.0 C371.0,734.6 372.1,749.3 373.6,763.9 C375.0,777.8 377.1,791.6 378.8,805.4 C380.5,819.3 382.1,833.2 384.0,847.0 C385.9,860.9 387.8,874.7 390.2,888.5 C392.6,902.6 395.0,916.8 398.4,930.6 C400.4,938.6 403.0,946.6 406.5,954.0 C409.9,961.3 415.0,967.8 419.0,974.8 C422.6,981.0 425.5,987.5 429.3,993.5 C432.4,998.5 435.9,1003.5 439.7,1008.0 C443.5,1012.5 447.6,1016.9 452.2,1020.5 C457.3,1024.4 463.3,1027.2 468.8,1030.5 C473.5,1033.3 478.2,1036.2 483.0,1039.0 C487.9,1041.9 492.7,1045.1 497.9,1047.5 C502.5,1049.6 507.5,1051.6 512.4,1052.5 C515.8,1053.1 519.3,1052.1 522.8,1051.8 C525.4,1051.6 528.1,1050.4 530.5,1050.8 C532.9,1051.2 535.4,1052.7 537.3,1054.3 C540.0,1056.7 541.6,1060.6 544.4,1062.9 C547.3,1065.3 550.9,1067.0 554.4,1068.6 C558.1,1070.3 562.1,1071.4 565.9,1072.9 C570.7,1074.8 575.3,1077.2 580.2,1078.6 C587.2,1080.6 594.4,1082.0 601.6,1082.9 C613.5,1084.4 625.4,1085.3 637.4,1085.8 C646.9,1086.2 656.5,1085.7 666.0,1085.5 C674.0,1085.3 682.0,1085.2 690.0,1084.5 C695.0,1084.0 700.0,1082.9 705.0,1082.0 C710.8,1081.0 716.8,1078.8 722.5,1078.9 C725.4,1078.9 728.7,1080.4 730.8,1082.3 C733.3,1084.7 734.2,1088.9 736.3,1092.0 C738.9,1095.8 741.1,1100.4 744.7,1103.1 C748.5,1106.0 753.6,1108.1 758.5,1108.6 C776.7,1110.4 795.4,1109.7 813.9,1110.0 C832.4,1110.3 850.9,1109.6 869.3,1110.5 C879.6,1111.0 889.7,1113.1 900.0,1114.0 C913.4,1115.1 926.8,1116.1 940.2,1116.5 C967.0,1117.2 993.8,1117.2 1020.6,1117.3 C1047.4,1117.4 1074.3,1117.3 1101.1,1117.3 C1115.4,1117.3 1129.8,1118.1 1144.0,1117.5 C1147.0,1117.4 1149.8,1115.9 1152.7,1115.3 C1160.7,1113.8 1168.7,1112.5 1176.8,1111.3 C1190.2,1109.3 1203.7,1108.1 1217.0,1105.9 C1226.0,1104.5 1234.8,1102.0 1243.8,1100.5 C1252.7,1099.1 1261.7,1098.5 1270.6,1097.2 C1279.6,1095.9 1289.3,1095.6 1297.5,1092.5 C1301.8,1090.9 1305.4,1086.8 1308.2,1083.1 C1310.8,1079.7 1311.5,1074.9 1313.5,1071.0 C1315.5,1066.9 1317.6,1062.7 1320.2,1059.0 C1322.9,1055.1 1325.8,1050.8 1329.6,1048.3 C1333.8,1045.5 1339.4,1043.4 1344.4,1042.9 C1348.8,1042.5 1353.5,1044.1 1357.8,1045.6 C1364.7,1048.1 1371.1,1052.1 1377.9,1055.0 C1384.5,1057.9 1391.1,1061.2 1398.0,1063.0 C1404.5,1064.7 1411.4,1065.4 1418.1,1065.7 C1422.1,1065.9 1426.1,1065.0 1430.0,1064.4 C1435.8,1063.5 1441.7,1062.8 1447.3,1061.0 C1456.2,1058.2 1464.8,1054.5 1473.3,1050.6 C1481.0,1047.0 1488.8,1043.2 1495.8,1038.5 C1500.9,1035.1 1505.6,1031.0 1509.6,1026.4 C1513.7,1021.7 1516.4,1015.9 1520.0,1010.8 C1523.3,1006.1 1526.6,1001.3 1530.4,996.9 C1534.1,992.6 1538.1,988.4 1542.5,984.8 C1547.9,980.3 1553.7,976.1 1559.8,972.7 C1564.1,970.3 1569.2,969.5 1573.7,967.5 C1580.7,964.3 1587.5,960.5 1594.4,957.1 C1600.2,954.2 1605.9,951.1 1611.8,948.5 C1620.3,944.8 1629.0,941.2 1637.7,938.1 C1643.4,936.1 1649.6,935.6 1655.0,933.0 C1662.5,929.4 1669.9,925.0 1676.3,919.7 C1685.3,912.3 1693.1,903.2 1701.3,894.8 C1709.7,886.3 1718.5,878.1 1726.2,869.0 C1733.7,860.2 1741.1,851.0 1747.0,841.0 C1752.7,831.3 1756.2,820.3 1761.0,810.0 C1764.9,801.6 1769.5,793.5 1773.0,785.0 C1775.9,778.2 1778.1,771.0 1780.2,763.9 C1782.7,755.5 1784.8,747.0 1786.8,738.5 C1789.5,727.0 1792.4,715.6 1794.5,704.0 C1796.8,691.4 1796.0,676.2 1800.0,666.0 C1801.0,663.5 1809.1,663.4 1809.5,666.0 C1811.2,678.7 1807.4,696.7 1806.2,712.0 C1804.9,729.3 1803.5,746.6 1802.0,763.9 C1800.8,777.7 1799.3,791.6 1797.9,805.4 C1796.5,819.3 1795.2,833.1 1793.7,847.0 C1792.2,861.3 1791.3,875.8 1789.0,890.0 C1787.1,901.8 1783.7,913.3 1781.0,925.0 C1778.7,935.0 1776.6,945.1 1774.0,955.0 C1772.6,960.2 1770.7,965.3 1769.1,970.5 C1766.8,977.9 1764.9,985.4 1762.2,992.6 C1759.8,999.2 1757.0,1005.7 1753.9,1012.0 C1751.0,1017.7 1747.8,1023.3 1744.2,1028.6 C1740.0,1034.8 1735.6,1041.2 1730.4,1046.6 C1725.0,1052.3 1718.6,1057.1 1712.4,1061.9 C1705.7,1067.0 1698.8,1072.1 1691.6,1076.4 C1685.0,1080.4 1677.9,1083.8 1670.8,1086.8 C1661.8,1090.5 1652.5,1093.9 1643.1,1096.5 C1629.4,1100.3 1615.6,1103.6 1601.6,1106.2 C1587.9,1108.7 1573.9,1110.4 1560.0,1111.7 C1539.8,1113.5 1519.5,1114.5 1499.2,1115.5 C1476.1,1116.6 1453.1,1117.1 1430.0,1118.1 C1403.7,1119.3 1377.3,1120.6 1351.0,1122.0 C1328.7,1123.2 1306.3,1124.6 1284.0,1126.0 C1261.7,1127.5 1239.3,1129.2 1217.0,1130.7 C1200.7,1131.8 1184.4,1132.4 1168.1,1133.8 C1161.4,1134.4 1154.7,1135.6 1148.0,1136.5" fill="none" stroke="#ff0000" stroke-width="7" stroke-linecap="round" stroke-linejoin="round"/>
<path d="M1153.4,1117.1 C1174.6,1116.5 1195.8,1116.0 1217.0,1115.3 C1239.3,1114.5 1261.8,1114.4 1284.0,1112.6 C1289.5,1112.2 1295.3,1111.0 1300.1,1108.6 C1304.3,1106.5 1307.8,1102.8 1310.9,1099.2 C1314.1,1095.6 1316.1,1091.1 1318.9,1087.1 C1321.5,1083.5 1323.8,1079.5 1326.9,1076.4 C1330.0,1073.3 1333.7,1070.2 1337.7,1068.4 C1340.9,1066.9 1344.8,1066.4 1348.4,1066.4 C1353.7,1066.4 1359.2,1067.3 1364.5,1068.4 C1373.5,1070.4 1382.2,1074.6 1391.3,1075.7 C1400.1,1076.8 1409.2,1075.7 1418.1,1075.1 C1422.1,1074.8 1426.1,1074.1 1430.0,1073.1 C1441.6,1070.0 1453.3,1066.8 1464.6,1062.7 C1475.3,1058.8 1486.3,1054.9 1495.8,1048.9 C1501.9,1045.1 1506.4,1038.6 1511.4,1033.3 C1516.2,1028.2 1520.3,1022.6 1525.2,1017.7 C1530.7,1012.2 1537.0,1007.6 1542.5,1002.1 C1548.5,996.1 1554.5,989.8 1559.8,983.1 C1565.0,976.5 1569.7,969.3 1574.0,962.0 C1577.4,956.2 1579.9,950.0 1583.0,944.0 C1585.6,939.0 1587.9,933.7 1591.0,929.0 C1595.9,921.7 1601.2,914.6 1607.0,908.0 C1613.0,901.1 1619.5,894.3 1626.5,888.5 C1631.5,884.4 1638.1,882.2 1643.1,878.1 C1649.1,873.2 1654.5,867.4 1659.7,861.5 C1664.9,855.6 1669.8,849.3 1674.3,842.8 C1678.8,836.1 1683.0,829.1 1686.7,822.0 C1691.3,813.2 1695.1,804.0 1699.2,795.0 C1702.7,787.4 1706.3,779.9 1709.6,772.2 C1713.2,764.0 1716.3,755.5 1720.0,747.3 C1724.1,738.4 1727.9,729.3 1733.0,721.0 C1736.9,714.7 1742.4,709.5 1747.0,703.6 C1751.2,698.1 1756.1,693.0 1759.4,687.0 C1763.0,680.5 1767.3,662.3 1767.8,666.0 C1769.2,676.6 1766.3,708.7 1765.0,730.0 C1764.0,746.0 1762.4,762.0 1761.0,778.0 C1759.6,793.6 1758.3,809.3 1756.6,824.9 C1754.9,840.7 1753.1,856.4 1750.7,872.1 C1748.4,887.1 1746.2,902.3 1742.5,917.0 C1740.5,924.9 1736.6,932.4 1733.5,940.0 C1730.5,947.4 1727.0,954.6 1724.0,962.0 C1720.5,970.6 1717.8,979.5 1714.0,988.0 C1710.7,995.3 1706.7,1002.3 1702.7,1009.3 C1699.2,1015.4 1695.6,1021.5 1691.6,1027.3 C1687.3,1033.5 1682.8,1039.8 1677.7,1045.3 C1671.3,1052.2 1664.4,1058.8 1657.0,1064.7 C1650.5,1069.9 1643.4,1074.4 1636.2,1078.5 C1629.6,1082.3 1622.5,1085.4 1615.4,1088.2 C1606.3,1091.8 1597.1,1095.1 1587.7,1097.9 C1578.6,1100.6 1569.4,1103.7 1560.0,1104.8 C1539.9,1107.2 1519.5,1107.3 1499.2,1108.6 C1476.1,1110.0 1453.1,1111.7 1430.0,1112.9 C1403.7,1114.3 1377.3,1115.2 1351.0,1116.6 C1328.7,1117.8 1306.3,1119.5 1284.0,1120.6 C1261.7,1121.7 1239.3,1121.9 1217.0,1123.3 C1200.7,1124.3 1184.4,1126.4 1168.1,1127.8 C1159.2,1128.6 1150.2,1128.8 1141.3,1129.8 C1135.9,1130.4 1130.6,1132.6 1125.2,1132.5 C1117.2,1132.4 1109.2,1129.9 1101.1,1129.1 C1087.7,1127.7 1074.3,1126.4 1060.9,1125.8 C1034.1,1124.6 1007.2,1124.5 980.4,1123.8 C953.6,1123.1 926.8,1122.1 900.0,1121.8 C880.5,1121.6 861.1,1122.9 841.6,1122.5 C823.1,1122.2 804.7,1120.6 786.2,1119.7 C767.7,1118.8 749.3,1118.0 730.8,1117.0 C717.0,1116.2 703.1,1115.2 689.3,1114.2 C681.5,1113.6 673.8,1112.7 666.0,1112.2 C651.7,1111.3 637.3,1111.4 623.1,1110.1 C613.5,1109.2 603.7,1108.3 594.5,1105.8 C589.4,1104.4 584.7,1101.5 580.2,1098.6 C575.1,1095.3 571.0,1090.5 565.9,1087.2 C559.1,1082.9 551.6,1079.6 544.4,1075.8 C537.3,1072.0 530.0,1068.3 523.0,1064.3 C515.7,1060.2 508.9,1055.3 501.5,1051.4 C494.6,1047.7 487.3,1044.5 480.1,1041.4 C473.0,1038.3 465.4,1036.4 458.6,1032.9 C453.3,1030.2 448.6,1026.3 443.9,1022.6 C438.1,1018.0 432.3,1013.4 427.3,1008.0 C421.9,1002.3 416.7,996.1 412.7,989.3 C407.7,980.8 403.7,971.6 400.2,962.3 C396.4,952.1 393.3,941.6 391.0,931.0 C387.9,917.0 386.1,902.7 384.0,888.5 C382.0,874.7 380.0,860.9 378.8,847.0 C376.9,826.3 376.1,805.5 374.7,784.7 C373.7,770.8 372.7,757.0 371.6,743.1 C370.2,725.4 368.8,707.7 367.4,690.0 C366.8,682.0 365.3,664.4 365.7,666.0 C366.3,668.3 368.9,689.7 370.5,701.6 C372.2,714.1 373.5,726.6 375.7,739.0 C377.3,748.4 379.2,757.9 381.9,767.0 C383.4,772.2 385.3,777.8 388.2,782.0 C389.5,783.8 392.3,785.4 394.4,785.2 C397.8,784.9 401.4,782.3 404.8,780.5 C408.4,778.6 411.5,775.7 415.2,774.3 C417.7,773.3 421.0,772.4 423.5,773.2 C426.6,774.2 429.6,776.9 431.8,779.5 C435.1,783.5 437.8,788.3 440.1,793.0 C442.7,798.3 444.2,804.1 446.3,809.6 C448.4,815.1 450.7,820.6 452.6,826.2 C454.9,833.1 456.7,840.1 458.8,847.0 C460.9,853.9 463.1,860.8 465.0,867.8 C467.3,876.1 469.1,884.4 471.3,892.7 C473.3,900.3 475.4,907.9 477.5,915.5 C479.3,922.3 481.3,929.1 483.0,936.0 C485.1,944.6 486.7,953.4 489.0,962.0 C491.7,971.9 494.5,981.8 497.9,991.4 C500.2,997.8 502.9,1004.2 506.2,1010.1 C509.1,1015.3 512.6,1020.3 516.6,1024.7 C520.9,1029.3 526.4,1032.8 531.1,1037.1 C535.4,1041.1 539.4,1045.4 543.6,1049.6 C548.4,1054.4 553.3,1059.3 558.1,1064.1 C562.3,1068.3 566.1,1072.8 570.6,1076.6 C574.4,1079.8 578.6,1083.0 583.1,1084.9 C588.3,1087.1 594.1,1088.4 599.7,1089.1 C607.4,1090.1 615.3,1090.1 623.1,1090.0 C631.3,1089.9 639.6,1089.6 647.7,1088.6 C657.0,1087.5 666.2,1085.7 675.4,1083.7 C681.0,1082.5 686.4,1080.4 692.0,1079.0 C695.2,1078.2 698.5,1076.9 701.7,1077.0 C705.0,1077.1 708.2,1078.5 711.4,1079.5 C715.2,1080.7 719.1,1081.8 722.5,1083.7 C725.6,1085.5 728.1,1088.2 730.8,1090.6 C733.2,1092.8 735.0,1095.8 737.7,1097.6 C740.6,1099.5 744.0,1101.0 747.4,1101.7 C755.6,1103.3 764.0,1104.0 772.4,1104.5 C786.2,1105.4 800.1,1105.5 813.9,1105.9 C832.4,1106.4 850.8,1106.5 869.3,1107.3 C886.2,1108.0 903.1,1109.6 920.0,1110.5 C926.7,1110.9 933.5,1110.9 940.2,1111.0 C967.0,1111.5 993.8,1111.8 1020.6,1112.5 C1034.0,1112.8 1047.5,1113.6 1060.9,1114.0 C1074.3,1114.4 1087.7,1114.7 1101.1,1115.1 C1114.5,1115.5 1127.9,1116.0 1141.3,1116.4 C1143.5,1116.5 1145.8,1116.4 1148.0,1116.4" fill="none" stroke="#00ff00" stroke-width="7" stroke-linecap="round" stroke-linejoin="round"/>
</g>
<line x1="570" y1="268.5" x2="572" y2="1216" stroke="#000" stroke-width="5" stroke-dasharray="11.5 16.24" stroke-linecap="round"/>
<line x1="728.7" y1="396" x2="729" y2="1212.5" stroke="#000" stroke-width="5" stroke-dasharray="11.5 16.24" stroke-linecap="round"/>
<line x1="1318.5" y1="150.5" x2="1318.3" y2="1216.5" stroke="#000" stroke-width="5" stroke-dasharray="11.5 16.24" stroke-linecap="round"/>
<line x1="1520" y1="372.2" x2="1520" y2="1216" stroke="#000" stroke-width="5" stroke-dasharray="11.5 16.24" stroke-linecap="round"/>
<line x1="1572.7" y1="317.7" x2="1572.8" y2="1216" stroke="#000" stroke-width="5" stroke-dasharray="11.5 16.24" stroke-linecap="round"/>
<line x1="1143.4" y1="514.4" x2="1087.5" y2="514.4" stroke="#000" stroke-width="6.7" stroke-linecap="round"/><polygon points="1056.1,514.6 1084.5,507.9 1084.5,521.4" fill="#000" stroke="#000" stroke-width="6" stroke-linejoin="round"/>
<line x1="1156.6" y1="513.5" x2="1203.7" y2="513.5" stroke="#000" stroke-width="6.7" stroke-linecap="round"/><polygon points="1234.6,513.4 1206.7,506.9 1206.7,519.9" fill="#000" stroke="#000" stroke-width="6" stroke-linejoin="round"/>
<line x1="1146.2" y1="1086.5" x2="1100.1" y2="1086.5" stroke="#000" stroke-width="6.7" stroke-linecap="round"/><polygon points="1067.9,1086.7 1097.1,1080.0 1097.1,1093.5" fill="#000" stroke="#000" stroke-width="6" stroke-linejoin="round"/>
<line x1="1155.3" y1="1086.5" x2="1204.4" y2="1086.5" stroke="#000" stroke-width="6.7" stroke-linecap="round"/><polygon points="1236.9,1086.7 1207.4,1080.0 1207.4,1093.5" fill="#000" stroke="#000" stroke-width="6" stroke-linejoin="round"/>
<line x1="308" y1="30" x2="308" y2="589.5" stroke="#000" stroke-width="6" stroke-linecap="round"/>
<line x1="305" y1="589.5" x2="2030" y2="589.5" stroke="#000" stroke-width="5"/>
<line x1="307.8" y1="589.5" x2="307.8" y2="600.5" stroke="#000" stroke-width="5" stroke-linecap="round"/>
<line x1="430.8" y1="589.5" x2="430.8" y2="611.0" stroke="#000" stroke-width="6" stroke-linecap="round"/>
<line x1="553.8" y1="589.5" x2="553.8" y2="600.5" stroke="#000" stroke-width="5" stroke-linecap="round"/>
<line x1="676.8" y1="589.5" x2="676.8" y2="611.0" stroke="#000" stroke-width="6" stroke-linecap="round"/>
<line x1="799.8" y1="589.5" x2="799.8" y2="600.5" stroke="#000" stroke-width="5" stroke-linecap="round"/>
<line x1="922.8" y1="589.5" x2="922.8" y2="611.0" stroke="#000" stroke-width="6" stroke-linecap="round"/>
<line x1="1045.8" y1="589.5" x2="1045.8" y2="600.5" stroke="#000" stroke-width="5" stroke-linecap="round"/>
<line x1="1168.8" y1="589.5" x2="1168.8" y2="611.0" stroke="#000" stroke-width="6" stroke-linecap="round"/>
<line x1="1291.8" y1="589.5" x2="1291.8" y2="600.5" stroke="#000" stroke-width="5" stroke-linecap="round"/>
<line x1="1414.8" y1="589.5" x2="1414.8" y2="611.0" stroke="#000" stroke-width="6" stroke-linecap="round"/>
<line x1="1537.8" y1="589.5" x2="1537.8" y2="600.5" stroke="#000" stroke-width="5" stroke-linecap="round"/>
<line x1="1660.8" y1="589.5" x2="1660.8" y2="611.0" stroke="#000" stroke-width="6" stroke-linecap="round"/>
<line x1="1783.8" y1="589.5" x2="1783.8" y2="600.5" stroke="#000" stroke-width="5" stroke-linecap="round"/>
<line x1="1906.8" y1="589.5" x2="1906.8" y2="611.0" stroke="#000" stroke-width="6" stroke-linecap="round"/>
<line x1="2029.8" y1="589.5" x2="2029.8" y2="600.5" stroke="#000" stroke-width="5" stroke-linecap="round"/>
<line x1="285.5" y1="176.5" x2="308" y2="176.5" stroke="#000" stroke-width="5" stroke-linecap="round"/>
<line x1="285.5" y1="361" x2="308" y2="361" stroke="#000" stroke-width="5" stroke-linecap="round"/>
<line x1="285.5" y1="545" x2="308" y2="545" stroke="#000" stroke-width="5" stroke-linecap="round"/>
<line x1="296.4" y1="84.5" x2="308" y2="84.5" stroke="#000" stroke-width="5" stroke-linecap="round"/>
<line x1="296.4" y1="269" x2="308" y2="269" stroke="#000" stroke-width="5" stroke-linecap="round"/>
<line x1="296.4" y1="453.3" x2="308" y2="453.3" stroke="#000" stroke-width="5" stroke-linecap="round"/>
<line x1="308" y1="670" x2="308" y2="1229" stroke="#000" stroke-width="6" stroke-linecap="round"/>
<line x1="305" y1="1229" x2="2030" y2="1229" stroke="#000" stroke-width="6"/>
<line x1="307.8" y1="1229" x2="307.8" y2="1240.5" stroke="#000" stroke-width="5" stroke-linecap="round"/>
<line x1="430.8" y1="1229" x2="430.8" y2="1251.0" stroke="#000" stroke-width="6" stroke-linecap="round"/>
<line x1="553.8" y1="1229" x2="553.8" y2="1240.5" stroke="#000" stroke-width="5" stroke-linecap="round"/>
<line x1="676.8" y1="1229" x2="676.8" y2="1251.0" stroke="#000" stroke-width="6" stroke-linecap="round"/>
<line x1="799.8" y1="1229" x2="799.8" y2="1240.5" stroke="#000" stroke-width="5" stroke-linecap="round"/>
<line x1="922.8" y1="1229" x2="922.8" y2="1251.0" stroke="#000" stroke-width="6" stroke-linecap="round"/>
<line x1="1045.8" y1="1229" x2="1045.8" y2="1240.5" stroke="#000" stroke-width="5" stroke-linecap="round"/>
<line x1="1168.8" y1="1229" x2="1168.8" y2="1251.0" stroke="#000" stroke-width="6" stroke-linecap="round"/>
<line x1="1291.8" y1="1229" x2="1291.8" y2="1240.5" stroke="#000" stroke-width="5" stroke-linecap="round"/>
<line x1="1414.8" y1="1229" x2="1414.8" y2="1251.0" stroke="#000" stroke-width="6" stroke-linecap="round"/>
<line x1="1537.8" y1="1229" x2="1537.8" y2="1240.5" stroke="#000" stroke-width="5" stroke-linecap="round"/>
<line x1="1660.8" y1="1229" x2="1660.8" y2="1251.0" stroke="#000" stroke-width="6" stroke-linecap="round"/>
<line x1="1783.8" y1="1229" x2="1783.8" y2="1240.5" stroke="#000" stroke-width="5" stroke-linecap="round"/>
<line x1="1906.8" y1="1229" x2="1906.8" y2="1251.0" stroke="#000" stroke-width="6" stroke-linecap="round"/>
<line x1="2029.8" y1="1229" x2="2029.8" y2="1240.5" stroke="#000" stroke-width="5" stroke-linecap="round"/>
<line x1="285.5" y1="669.7" x2="308" y2="669.7" stroke="#000" stroke-width="5" stroke-linecap="round"/>
<line x1="285.5" y1="1117.1" x2="308" y2="1117.1" stroke="#000" stroke-width="5" stroke-linecap="round"/>
<line x1="296.4" y1="893" x2="308" y2="893" stroke="#000" stroke-width="5" stroke-linecap="round"/>
<text x="430.8" y="680.5" font-family="'Liberation Sans', Arial, sans-serif" font-size="70" font-weight="normal" font-style="normal" text-anchor="middle" >-3</text>
<text x="430.8" y="1321" font-family="'Liberation Sans', Arial, sans-serif" font-size="70" font-weight="normal" font-style="normal" text-anchor="middle" >-3</text>
<text x="676.8" y="680.5" font-family="'Liberation Sans', Arial, sans-serif" font-size="70" font-weight="normal" font-style="normal" text-anchor="middle" >-2</text>
<text x="676.8" y="1321" font-family="'Liberation Sans', Arial, sans-serif" font-size="70" font-weight="normal" font-style="normal" text-anchor="middle" >-2</text>
<text x="922.8" y="680.5" font-family="'Liberation Sans', Arial, sans-serif" font-size="70" font-weight="normal" font-style="normal" text-anchor="middle" >-1</text>
<text x="922.8" y="1321" font-family="'Liberation Sans', Arial, sans-serif" font-size="70" font-weight="normal" font-style="normal" text-anchor="middle" >-1</text>
<text x="1168.8" y="680.5" font-family="'Liberation Sans', Arial, sans-serif" font-size="70" font-weight="normal" font-style="normal" text-anchor="middle" >0</text>
<text x="1168.8" y="1321" font-family="'Liberation Sans', Arial, sans-serif" font-size="70" font-weight="normal" font-style="normal" text-anchor="middle" >0</text>
<text x="1414.8" y="680.5" font-family="'Liberation Sans', Arial, sans-serif" font-size="70" font-weight="normal" font-style="normal" text-anchor="middle" >1</text>
<text x="1414.8" y="1321" font-family="'Liberation Sans', Arial, sans-serif" font-size="70" font-weight="normal" font-style="normal" text-anchor="middle" >1</text>
<text x="1660.8" y="680.5" font-family="'Liberation Sans', Arial, sans-serif" font-size="70" font-weight="normal" font-style="normal" text-anchor="middle" >2</text>
<text x="1660.8" y="1321" font-family="'Liberation Sans', Arial, sans-serif" font-size="70" font-weight="normal" font-style="normal" text-anchor="middle" >2</text>
<text x="1906.8" y="680.5" font-family="'Liberation Sans', Arial, sans-serif" font-size="70" font-weight="normal" font-style="normal" text-anchor="middle" >3</text>
<text x="1906.8" y="1321" font-family="'Liberation Sans', Arial, sans-serif" font-size="70" font-weight="normal" font-style="normal" text-anchor="middle" >3</text>
<text x="22.1" y="204.5" font-family="'Liberation Sans', Arial, sans-serif" font-size="70" font-weight="normal" font-style="normal" text-anchor="start" >1.0x10</text><text x="232.29999999999998" y="170" font-family="'Liberation Sans', Arial, sans-serif" font-size="41" font-weight="normal" font-style="normal" text-anchor="start" >-5</text>
<text x="22.1" y="388.8" font-family="'Liberation Sans', Arial, sans-serif" font-size="70" font-weight="normal" font-style="normal" text-anchor="start" >5.0x10</text><text x="232.29999999999998" y="354" font-family="'Liberation Sans', Arial, sans-serif" font-size="41" font-weight="normal" font-style="normal" text-anchor="start" >-6</text>
<text x="22.1" y="697.5" font-family="'Liberation Sans', Arial, sans-serif" font-size="70" font-weight="normal" font-style="normal" text-anchor="start" >2.0x10</text><text x="232.29999999999998" y="663" font-family="'Liberation Sans', Arial, sans-serif" font-size="41" font-weight="normal" font-style="normal" text-anchor="start" >-4</text>
<text x="173.1" y="567" font-family="'Liberation Sans', Arial, sans-serif" font-size="70" font-weight="normal" font-style="normal" text-anchor="start" >0.0</text>
<text x="173.1" y="1138.5" font-family="'Liberation Sans', Arial, sans-serif" font-size="70" font-weight="normal" font-style="normal" text-anchor="start" >0.0</text>
<text transform="translate(82,575.5) rotate(-90)" font-family="'Liberation Sans', Arial, sans-serif" font-size="70" font-weight="bold">lil (A)</text>
<text transform="translate(78,1001.3) rotate(-90)" font-family="'Liberation Sans', Arial, sans-serif" font-size="70" font-weight="bold">i (A)</text>
<text y="1404.5" font-family="'Liberation Sans', Arial, sans-serif" font-size="70" font-weight="bold"><tspan x="813.3 859.99 878.45 903.76 954.45">E (V)</tspan> <tspan x="994.72 1037.14" font-style="italic">vs</tspan> <tspan x="1093.52 1137.79 1178.21 1197.17 1241.74">Fc/Fc</tspan></text>
<text x="1282" y="1376.4" font-family="'Liberation Sans', Arial, sans-serif" font-size="70" font-weight="bold" font-style="normal" text-anchor="start" >+</text>
<text x="1860" y="136" font-family="'Liberation Sans', Arial, sans-serif" font-size="70" font-weight="bold" font-style="normal" text-anchor="start" >DPV</text>
<text x="1871" y="819" font-family="'Liberation Sans', Arial, sans-serif" font-size="70" font-weight="bold" font-style="normal" text-anchor="start" >CV</text>
<text x="547" y="258" font-family="'Liberation Sans', Arial, sans-serif" font-size="58" font-weight="normal" font-style="normal" text-anchor="start" >c2</text>
<text x="705" y="375" font-family="'Liberation Sans', Arial, sans-serif" font-size="58" font-weight="normal" font-style="normal" text-anchor="start" >c1</text>
<text x="1300.3" y="136.4" font-family="'Liberation Sans', Arial, sans-serif" font-size="58" font-weight="normal" font-style="normal" text-anchor="start" >a1</text>
<text x="1367.7" y="290.1" font-family="'Liberation Sans', Arial, sans-serif" font-size="58" font-weight="normal" font-style="normal" text-anchor="start" >a2</text>
<text x="1404.2" y="353.5" font-family="'Liberation Sans', Arial, sans-serif" font-size="58" font-weight="normal" font-style="normal" text-anchor="start" >a3</text>
<text x="1486.2" y="350.3" font-family="'Liberation Sans', Arial, sans-serif" font-size="58" font-weight="normal" font-style="normal" text-anchor="start" >a4</text>
<text x="1555.7" y="309" font-family="'Liberation Sans', Arial, sans-serif" font-size="58" font-weight="normal" font-style="normal" text-anchor="start" >a5</text>
<line x1="1819" y1="331" x2="1951.5" y2="331" stroke="#0000ff" stroke-width="7" stroke-linecap="round" stroke-dasharray="20 30"/>
<text x="1966.8" y="351" font-family="'Liberation Serif', 'Times New Roman', serif" font-size="60" font-weight="normal" font-style="normal" text-anchor="start" >0 mM</text>
<line x1="1819" y1="403.2" x2="1951.5" y2="403.2" stroke="#0000ff" stroke-width="7" stroke-linecap="round"/>
<text x="1966.8" y="424" font-family="'Liberation Serif', 'Times New Roman', serif" font-size="60" font-weight="normal" font-style="normal" text-anchor="start" >1 mM</text>
<line x1="1819" y1="476.3" x2="1951.5" y2="476.3" stroke="#ff0000" stroke-width="7" stroke-linecap="round"/>
<text x="1966.8" y="496.7" font-family="'Liberation Serif', 'Times New Roman', serif" font-size="60" font-weight="normal" font-style="normal" text-anchor="start" >0.4 mM</text>
<line x1="1819" y1="549.2" x2="1951.5" y2="549.2" stroke="#00ff00" stroke-width="7" stroke-linecap="round"/>
<text x="1967.5" y="569.6" font-family="'Liberation Sans', Arial, sans-serif" font-size="58" font-weight="normal" font-style="normal" text-anchor="start" word-spacing="5">0.11 mM</text>
<line x1="1837.8" y1="975.3" x2="1969" y2="975.3" stroke="#0000ff" stroke-width="7" stroke-linecap="round" stroke-dasharray="20 30"/>
<text x="1985.8" y="995" font-family="'Liberation Serif', 'Times New Roman', serif" font-size="60" font-weight="normal" font-style="normal" text-anchor="start" >0 mM</text>
<line x1="1837.8" y1="1048" x2="1969" y2="1048" stroke="#0000ff" stroke-width="7" stroke-linecap="round"/>
<text x="1985.8" y="1067.8" font-family="'Liberation Serif', 'Times New Roman', serif" font-size="60" font-weight="normal" font-style="normal" text-anchor="start" >1 mM</text>
<line x1="1837.8" y1="1120.3" x2="1969" y2="1120.3" stroke="#ff0000" stroke-width="7" stroke-linecap="round"/>
<text x="1985.8" y="1141" font-family="'Liberation Serif', 'Times New Roman', serif" font-size="60" font-weight="normal" font-style="normal" text-anchor="start" >0.4 mM</text>
<line x1="1837.8" y1="1193.5" x2="1969" y2="1193.5" stroke="#00ff00" stroke-width="7" stroke-linecap="round"/>
<text x="1986.5" y="1213.8" font-family="'Liberation Sans', Arial, sans-serif" font-size="58" font-weight="normal" font-style="normal" text-anchor="start" word-spacing="5">0.11 mM</text></svg>
</body></html>
